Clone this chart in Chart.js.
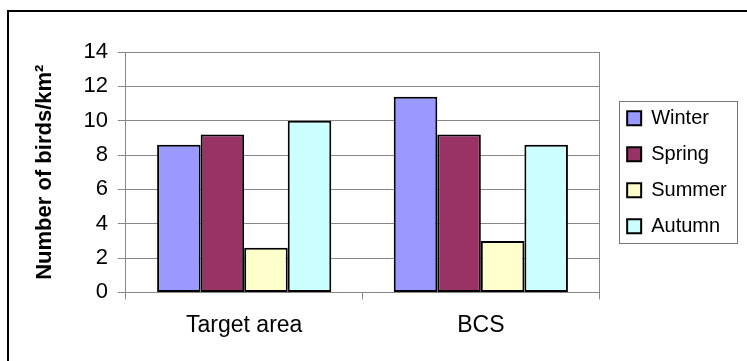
<!DOCTYPE html>
<html>
<head>
<meta charset="utf-8">
<script src="https://cdn.jsdelivr.net/npm/chart.js@4"></script>
<style>
  html, body { margin: 0; padding: 0; background: #fff; }
  #wrap { width: 747px; height: 361px; position: relative; }
</style>
</head>
<body>
<div id="wrap"><canvas id="chart"></canvas></div>
<script>
// data
const categories = ['Target area', 'BCS'];
const seasons = ['Winter', 'Spring', 'Summer', 'Autumn'];
const winter = [8.6, 11.4];
const spring = [9.2, 9.2];
const summer = [2.6, 3.0];
const autumn = [10.0, 8.6];
const seasonColors = ['#9999FF', '#993366', '#FFFFCC', '#CCFFFF'];

const gray = '#888888';
const font = '"Liberation Sans", Arial, sans-serif';

Chart.defaults.color = '#000';
Chart.defaults.font.family = font;

// outer frame (only top and left edges are inside the picture)
const frame = {
    id: 'frame',
    beforeDraw(chart) {
        const ctx = chart.ctx;
        ctx.save();
        ctx.strokeStyle = '#000';
        ctx.lineWidth = 2;
        ctx.strokeRect(8, 11, 800, 400);
        ctx.restore();
    }
};

// box round the legend
const legendBox = {
    id: 'legendBox',
    afterDraw(chart) {
        const lg = chart.legend;
        if (!lg || !lg.legendHitBoxes.length) return;
        const hb = lg.legendHitBoxes;
        const left = hb[0].left - 8;
        const top = hb[0].top - 7;
        const last = hb[hb.length - 1];
        const bottom = last.top + last.height + 7;
        const right = 737;
        const ctx = chart.ctx;
        ctx.save();
        ctx.strokeStyle = '#777';
        ctx.lineWidth = 1;
        ctx.strokeRect(Math.round(left) + 0.5, Math.round(top) + 0.5,
            Math.round(right - left), Math.round(bottom - top));
        ctx.restore();
    }
};

const seriesValues = [winter, spring, summer, autumn];

const config = {
    type: 'bar',
    data: {
        labels: categories,
        datasets: seasons.map((s, i) => ({
            label: s,
            data: seriesValues[i],
            backgroundColor: seasonColors[i],
            borderColor: '#000',
            borderWidth: 2,
            borderSkipped: false,
            categoryPercentage: 0.736,
            barPercentage: 1
        }))
    },
    options: {
        responsive: true,
        maintainAspectRatio: false,
        animation: false,
        layout: {
            padding: { left: 32, top: 52, bottom: 10, right: 20 }
        },
        scales: {
            x: {
                grid: {
                    drawOnChartArea: false,
                    tickLength: 7,
                    color: gray
                },
                border: { color: gray },
                ticks: {
                    font: { size: 23 },
                    padding: 12
                }
            },
            y: {
                min: 0,
                max: 14,
                ticks: {
                    stepSize: 2,
                    font: { size: 22 },
                    padding: 10
                },
                grid: {
                    color: gray,
                    tickLength: 8
                },
                border: { color: gray },
                title: {
                    display: true,
                    text: 'Number of birds/km²',
                    font: { size: 22, weight: 'bold' },
                    padding: { top: 0, bottom: 15 }
                }
            },
            // right edge of the plot area
            y2: {
                position: 'right',
                min: 0,
                max: 14,
                ticks: { display: false },
                grid: {
                    drawOnChartArea: false,
                    tickLength: 12,
                    color: 'transparent'
                },
                border: { color: gray }
            }
        },
        plugins: {
            legend: {
                position: 'right',
                fullSize: false,
                labels: {
                    boxWidth: 14,
                    boxHeight: 14,
                    padding: 16,
                    font: { size: 20 }
                }
            },
            tooltip: { enabled: false }
        }
    },
    plugins: [frame, legendBox]
};

new Chart(document.getElementById('chart'), config);
</script>
</body>
</html>
